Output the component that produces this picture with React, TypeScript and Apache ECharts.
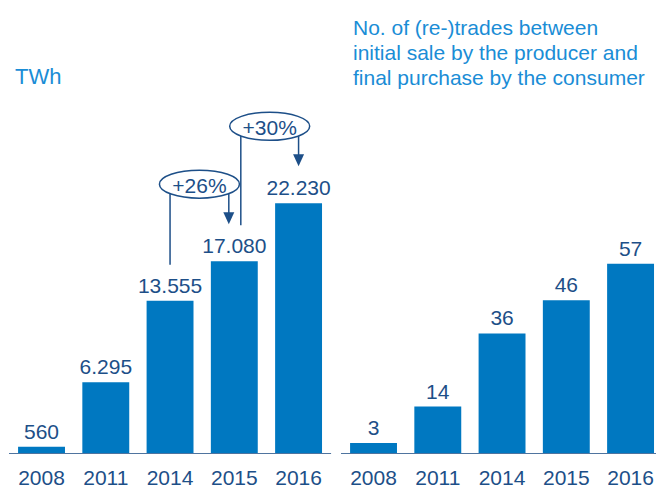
import React, { useEffect, useRef } from "react";
import * as echarts from "echarts";

const years = ["2008", "2011", "2014", "2015", "2016"];
const twhValues = [560, 6295, 13555, 17080, 22230];
const tradeValues = [3, 14, 36, 46, 57];
const growthLabels = ["+26%", "+30%"];
const growthFrom = [2, 3];
const growthTo = [3, 4];
const leftTitle = "TWh";
const rightTitleLines = [
  "No. of (re-)trades between",
  "initial sale by the producer and",
  "final purchase by the consumer",
];

const FONT = "'Liberation Sans', Arial, Helvetica, sans-serif";
const BAR = "#0078c1";
const NAVY = "#1d4f88";
const LIGHT = "#1a8dd6";
const AXIS = "#4f749f";

const fmt = (v: number) => String(v).replace(/\B(?=(\d{3})+(?!\d))/g, ".");

export default function App() {
  const ref = useRef<HTMLDivElement>(null);
  useEffect(() => {
    document.body.style.margin = "0";
    document.body.style.overflow = "hidden";
    document.documentElement.style.overflow = "hidden";
    const chart = echarts.init(ref.current!, null, { renderer: "svg" });
    const xAxisBase = (gi: number) => ({
      type: "category" as const,
      gridIndex: gi,
      data: years,
      axisLine: { lineStyle: { color: AXIS, width: 1 } },
      axisTick: { show: false },
      axisLabel: { interval: 0, fontSize: 21, color: NAVY, margin: 14, fontFamily: FONT },
    });
    const barBase = (gi: number, data: number[]) => ({
      type: "bar" as const,
      xAxisIndex: gi,
      yAxisIndex: gi,
      data,
      barWidth: "73%",
      itemStyle: { color: BAR },
      label: {
        show: true,
        position: "top" as const,
        distance: 5,
        fontSize: 21,
        color: NAVY,
        fontFamily: FONT,
        formatter: (p: any) => fmt(p.value),
      },
    });
    chart.setOption({
      animation: false,
      grid: [
        { left: 9.4, width: 321.3, top: 116, height: 341 },
        { left: 341.4, width: 321.3, top: 121, height: 335 },
      ],
      xAxis: [xAxisBase(0), xAxisBase(1)],
      yAxis: [
        { type: "value", gridIndex: 0, min: 0, max: 30000, show: false, splitLine: { show: false } },
        { type: "value", gridIndex: 1, min: 0, max: 100, show: false, splitLine: { show: false } },
      ],
      series: [barBase(0, twhValues), barBase(1, tradeValues)],
    });

    const pix = (i: number, v: number) =>
      chart.convertToPixel({ gridIndex: 0 } as any, [i, v]) as number[];

    const graphics: any[] = [
      {
        type: "text",
        x: 15,
        y: 76,
        style: { text: leftTitle, fontSize: 22, fill: LIGHT, fontFamily: FONT, verticalAlign: "middle" },
      },
      ...rightTitleLines.map((t, k) => ({
        type: "text",
        x: 353,
        y: 27 + k * 25,
        style: { text: t, fontSize: 21, fill: LIGHT, fontFamily: FONT, verticalAlign: "middle" },
      })),
    ];

    growthLabels.forEach((lab, k) => {
      const f = growthFrom[k];
      const t = growthTo[k];
      const pf = pix(f, twhValues[f]);
      const pt = pix(t, twhValues[t]);
      const xl = pf[0] + (k === 0 ? 0 : 6.5);
      const xr = pt[0] + (k === 0 ? -5.5 : 0);
      const tip = pt[1] - 37;
      const cy = tip - 40;
      const cx = (xl + xr) / 2;
      const lineStyle = { stroke: NAVY, lineWidth: 1.5 };
      graphics.push(
        { type: "line", z: 10, shape: { x1: xl, y1: cy, x2: xl, y2: pf[1] - 36 }, style: lineStyle },
        { type: "line", z: 10, shape: { x1: xr, y1: cy, x2: xr, y2: tip - 11 }, style: lineStyle },
        {
          type: "polygon",
          z: 10,
          shape: { points: [[xr - 5.5, tip - 12], [xr + 5.5, tip - 12], [xr, tip]] },
          style: { fill: NAVY },
        },
        {
          type: "ellipse",
          z: 11,
          shape: { cx, cy, rx: 40, ry: 14 },
          style: { fill: "#fff", stroke: NAVY, lineWidth: 1.5 },
        },
        {
          type: "text",
          z: 12,
          x: cx,
          y: cy + 1,
          style: { text: lab, fontSize: 21, fill: NAVY, fontFamily: FONT, align: "center", verticalAlign: "middle" },
        }
      );
    });

    chart.setOption({ graphic: graphics });
    return () => chart.dispose();
  }, []);
  return <div ref={ref} style={{ width: 680, height: 488 }} />;
}
